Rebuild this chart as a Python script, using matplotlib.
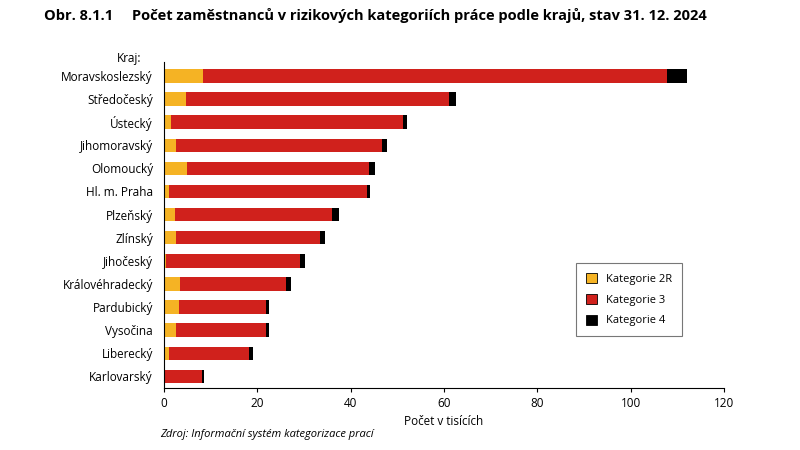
import numpy as np
import matplotlib.pyplot as plt

kraje = ['Moravskoslezský', 'Středočeský', 'Ústecký', 'Jihomoravský', 'Olomoucký',
         'Hl. m. Praha', 'Plzeňský', 'Zlínský', 'Jihočeský', 'Královéhradecký',
         'Pardubický', 'Vysočina', 'Liberecký', 'Karlovarský']
kat_2r = [8.4, 4.7, 1.5, 2.6, 4.9, 1.1, 2.4, 2.6, 0.4, 3.4, 3.2, 2.6, 1.1, 0.1]
kat_3 = [99.4, 56.4, 49.7, 44.1, 39.0, 42.4, 33.6, 30.8, 28.7, 22.7, 18.7, 19.3, 17.1, 8.0]
kat_4 = [4.2, 1.5, 0.8, 1.1, 1.3, 0.6, 1.5, 1.1, 1.1, 1.1, 0.6, 0.6, 0.9, 0.5]

plt.rcParams['font.family'] = 'Open Sans'
fig = plt.figure(figsize=(8, 4.5), dpi=100)
ax = fig.add_axes([0.205, 0.138, 0.7, 0.724])

y = np.arange(len(kraje))
a = np.array(kat_2r)
b = np.array(kat_3)
c = np.array(kat_4)
ax.barh(y, a, height=0.58, color='#f5b324', label='Kategorie 2R')
ax.barh(y, b, left=a, height=0.58, color='#d0211c', label='Kategorie 3')
ax.barh(y, c, left=a + b, height=0.58, color='#000000', label='Kategorie 4')

ax.set_yticks(y)
ax.set_yticklabels(kraje, fontsize=8.5)
ax.invert_yaxis()
ax.set_ylim(len(kraje) - 0.5, -0.6)
ax.set_xlim(0, 120)
ax.set_xticks(range(0, 121, 20))
ax.tick_params(axis='x', labelsize=8.5, length=3)
ax.tick_params(axis='y', length=0, pad=8)
for s in ['top', 'right']:
    ax.spines[s].set_visible(False)
ax.set_xlabel('Počet v tisících', fontsize=8.5)

ax.text(-0.04, 1.0, 'Kraj:', transform=ax.transAxes, ha='right', fontsize=8.5)
fig.text(0.055, 0.955, 'Obr. 8.1.1     Počet zaměstnanců v rizikových kategoriích práce podle krajů, stav 31. 12. 2024',
         fontsize=10.5, fontweight='bold')
fig.text(0.2, 0.03, 'Zdroj: Informační systém kategorizace prací', fontsize=8, style='italic')

leg = ax.legend(loc='center left', bbox_to_anchor=(0.725, 0.27), fontsize=8, frameon=True,
                fancybox=False, edgecolor='#555555', handlelength=1, handleheight=1,
                borderpad=0.9, labelspacing=0.8)
leg.get_frame().set_linewidth(0.8)
for h in leg.legend_handles:
    h.set_edgecolor('black')
    h.set_linewidth(0.6)

fig.savefig('out.png', dpi=100)
